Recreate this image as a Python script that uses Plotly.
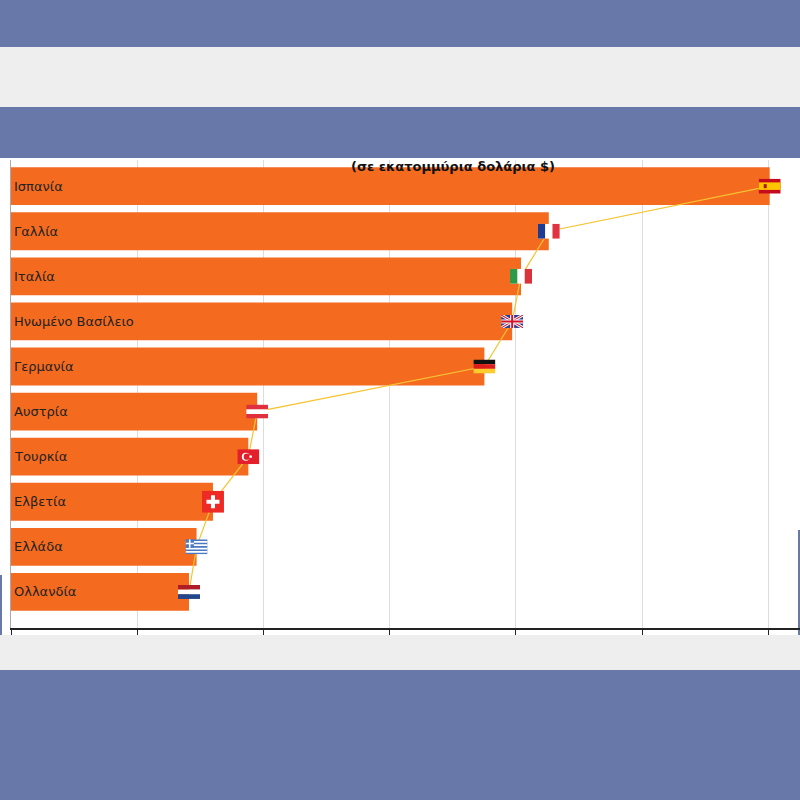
import base64
import plotly.graph_objects as go

# Data (million US$); tick step is 10 000
countries = ["Ισπανία", "Γαλλία", "Ιταλία", "Ηνωμένο Βασίλειο", "Γερμανία",
             "Αυστρία", "Τουρκία", "Ελβετία", "Ελλάδα", "Ολλανδία"]
values = [60100, 42600, 40400, 39700, 37500, 19500, 18800, 16000, 14700, 14100]
flag_codes = ["es", "fr", "it", "gb", "de", "at", "tr", "ch", "gr", "nl"]

BLUE = "#6878A9"
GRAY = "#EEEEEE"
ORANGE = "#F46B20"

# simple flag drawings (SVG), width x height in px
FLAGS = {
    "es": (22, 15, '<rect width="22" height="15" fill="#C60B1E"/><rect y="3.75" width="22" height="7.5" fill="#FFC400"/>'
                   '<rect x="5" y="5.5" width="3" height="4" fill="#AD1519"/>'),
    "fr": (22, 15, '<rect width="22" height="15" fill="#fff"/><rect width="7.3" height="15" fill="#1F3A93"/>'
                   '<rect x="14.7" width="7.3" height="15" fill="#E1323F"/>'),
    "it": (22, 15, '<rect width="22" height="15" fill="#fff"/><rect width="7.3" height="15" fill="#2E9A48"/>'
                   '<rect x="14.7" width="7.3" height="15" fill="#D9343C"/>'),
    "gb": (22, 13, '<rect width="22" height="13" fill="#2A3C8C"/>'
                   '<path d="M0,0 L22,13 M22,0 L0,13" stroke="#fff" stroke-width="3"/>'
                   '<path d="M0,0 L22,13 M22,0 L0,13" stroke="#CF142B" stroke-width="1"/>'
                   '<path d="M11,0 V13 M0,6.5 H22" stroke="#fff" stroke-width="4"/>'
                   '<path d="M11,0 V13 M0,6.5 H22" stroke="#CF142B" stroke-width="2"/>'),
    "de": (22, 14, '<rect width="22" height="4.7" fill="#111"/><rect y="4.7" width="22" height="4.7" fill="#DD1C1C"/>'
                   '<rect y="9.3" width="22" height="4.7" fill="#FFCC2E"/>'),
    "at": (22, 14, '<rect width="22" height="14" fill="#E0303E"/><rect y="4.7" width="22" height="4.7" fill="#fff"/>'),
    "tr": (22, 15, '<rect width="22" height="15" fill="#E21F2B"/><circle cx="8.5" cy="7.5" r="4" fill="#fff"/>'
                   '<circle cx="9.6" cy="7.5" r="3.2" fill="#E21F2B"/><circle cx="13.3" cy="7.5" r="1.3" fill="#fff"/>'),
    "ch": (22, 22, '<rect width="22" height="22" fill="#EE2A24"/><rect x="9" y="4.5" width="4" height="13" fill="#fff"/>'
                   '<rect x="4.5" y="9" width="13" height="4" fill="#fff"/>'),
    "gr": (22, 15, '<rect width="22" height="15" fill="#4A78C2"/>'
                   '<path d="M0,2.5 H22 M0,5.8 H22 M0,9.2 H22 M0,12.5 H22" stroke="#fff" stroke-width="1.67"/>'
                   '<rect width="8.3" height="8.3" fill="#4A78C2"/>'
                   '<path d="M4.15,0 V8.3 M0,4.15 H8.3" stroke="#fff" stroke-width="1.6"/>'),
    "nl": (22, 14, '<rect width="22" height="4.7" fill="#AE1C28"/><rect y="4.7" width="22" height="4.7" fill="#fff"/>'
                   '<rect y="9.3" width="22" height="4.7" fill="#21468B"/>'),
}


def flag_uri(code):
    w, h, body = FLAGS[code]
    svg = f'<svg xmlns="http://www.w3.org/2000/svg" width="{w}" height="{h}" viewBox="0 0 {w} {h}">{body}</svg>'
    return "data:image/svg+xml;base64," + base64.b64encode(svg.encode()).decode()


x_max = 62500
plot_w = 789   # px
plot_h = 468   # px
y_range = [9.8, -0.58]
px_x = x_max / plot_w
px_y = (y_range[0] - y_range[1]) / plot_h

fig = go.Figure()

fig.add_trace(go.Bar(
    x=values,
    y=countries,
    orientation="h",
    marker=dict(color=ORANGE, line=dict(width=0)),
    width=0.84,
    text=countries,
    textposition="inside",
    insidetextanchor="start",
    textangle=0,
    insidetextfont=dict(family="DejaVu Sans", size=13, color="#222"),
    hoverinfo="x+y",
))

fig.add_trace(go.Scatter(
    x=values,
    y=countries,
    mode="lines",
    line=dict(color="#F5C431", width=1.2),
    hoverinfo="skip",
))

images = []
for c, v, code in zip(countries, values, flag_codes):
    w, h, _ = FLAGS[code]
    images.append(dict(
        source=flag_uri(code), xref="x", yref="y", x=v, y=c,
        sizex=w * px_x, sizey=h * px_y, sizing="stretch",
        xanchor="center", yanchor="middle", layer="above",
    ))

# background bands (pixel offsets from the top-left corner of the plot area)
def band(y_top, y_bot, color, x0=-11, x1=789):
    return dict(type="rect", xref="paper", yref="paper",
                xsizemode="pixel", ysizemode="pixel", xanchor=0, yanchor=1,
                x0=x0, x1=x1, y0=160 - y_bot, y1=160 - y_top,
                fillcolor=color, line=dict(width=0), layer="below")

shapes = [
    band(47, 107, GRAY),
    band(158, 635, "white"),
    band(635, 670, GRAY),
    band(575, 635, BLUE, -11, -9),
    band(530, 635, BLUE, 787, 789),
]

fig.update_layout(
    width=800, height=800,
    margin=dict(l=11, r=0, t=160, b=172),
    paper_bgcolor=BLUE,
    plot_bgcolor="rgba(0,0,0,0)",
    showlegend=False,
    bargap=0.16,
    images=images,
    shapes=shapes,
    xaxis=dict(
        range=[0, x_max], dtick=10000, showticklabels=False,
        showgrid=True, gridcolor="#DDDDDD", gridwidth=1,
        zeroline=False, showline=True, linecolor="#222", linewidth=1.5,
        ticks="outside", ticklen=5, tickcolor="#222",
    ),
    yaxis=dict(
        range=y_range, showticklabels=False, showgrid=False,
        zeroline=False, showline=True, linecolor="#AAAAAA", linewidth=1,
    ),
    annotations=[dict(
        text="<b>(σε εκατομμύρια δολάρια $)</b>",
        xref="paper", yref="paper", x=0.56, y=0.987,
        xanchor="center", yanchor="middle", showarrow=False,
        font=dict(family="DejaVu Sans", size=13, color="#111"),
    )],
)

fig.write_html("out.html", config={"displayModeBar": False},
               post_script="document.body.style.margin='0';")
